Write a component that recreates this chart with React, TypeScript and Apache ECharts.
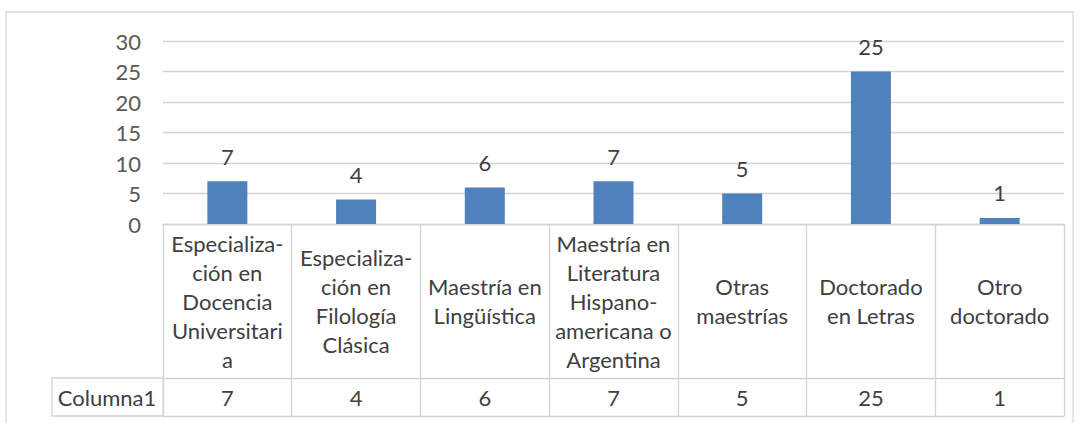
import React, { useEffect, useRef } from "react";
import * as echarts from "echarts";

const categories = [
  "Especializa-\nción en\nDocencia\nUniversitari\na",
  "Especializa-\nción en\nFilología\nClásica",
  "Maestría en\nLingüística",
  "Maestría en\nLiteratura\nHispano-\namericana o\nArgentina",
  "Otras\nmaestrías",
  "Doctorado\nen Letras",
  "Otro\ndoctorado",
];
const seriesName = "Columna1";
const values = [7, 4, 6, 7, 5, 25, 1];
const yTicks = { min: 0, max: 30, interval: 5 };

const FONT = "Lato";
const FS = 22;
const LINE = "#d4d4d4";
const TEXT = "#404040";

export default function App() {
  const ref = useRef<HTMLDivElement>(null);
  useEffect(() => {
    if (!ref.current) return;
    const chart = echarts.init(ref.current, null, { renderer: "svg" });
    chart.setOption({
      animation: false,
      backgroundColor: "#ffffff",
      textStyle: { fontFamily: FONT },
      grid: { left: 163, right: 16, top: 41, bottom: 199, containLabel: false },
      yAxis: {
        type: "value",
        min: yTicks.min,
        max: yTicks.max,
        interval: yTicks.interval,
        axisLine: { show: false },
        axisTick: { show: false },
        axisLabel: { color: "#595959", fontSize: FS, fontFamily: FONT, margin: 22 },
        splitLine: { lineStyle: { color: LINE, width: 1.3 } },
      },
      xAxis: [
        {
          type: "category",
          data: categories,
          position: "bottom",
          axisLine: { show: true, lineStyle: { color: LINE, width: 1.3 } },
          axisTick: { show: true, length: 192, lineStyle: { color: LINE, width: 1.3 } },
          axisLabel: {
            color: TEXT,
            fontSize: FS,
            fontFamily: FONT,
            lineHeight: 29,
            verticalAlign: "middle",
            align: "center",
            margin: 77,
            interval: 0,
          },
        },
        {
          type: "category",
          data: values.map(String),
          position: "bottom",
          offset: 154,
          axisLine: { show: true, lineStyle: { color: LINE, width: 1.3 } },
          axisTick: { show: false },
          axisLabel: {
            color: TEXT,
            fontSize: FS,
            fontFamily: FONT,
            verticalAlign: "middle",
            margin: 19,
            interval: 0,
          },
        },
        {
          type: "category",
          data: categories,
          position: "bottom",
          offset: 192,
          axisLine: { show: true, lineStyle: { color: LINE, width: 1.3 } },
          axisTick: { show: false },
          axisLabel: { show: false },
        },
      ],
      series: [
        {
          name: seriesName,
          type: "bar",
          xAxisIndex: 0,
          data: values,
          barWidth: 40,
          itemStyle: { color: "#4F81BD" },
          label: {
            show: true,
            position: "top",
            distance: 14,
            color: TEXT,
            fontSize: FS,
            fontFamily: FONT,
          },
        },
      ],
      graphic: [
        {
          type: "rect",
          shape: { x: 6, y: 12, width: 1067, height: 430 },
          style: { fill: "none", stroke: "#d9d9d9", lineWidth: 1.3 },
          silent: true,
          z: -1,
        },
        {
          type: "rect",
          shape: { x: 52, y: 378, width: 111, height: 38 },
          style: { fill: "none", stroke: LINE, lineWidth: 1.3 },
          silent: true,
        },
        {
          type: "text",
          x: 107,
          y: 397,
          style: {
            text: seriesName,
            fill: TEXT,
            font: `${FS}px ${FONT}`,
            align: "center",
            verticalAlign: "middle",
          },
        },
      ],
    });
    return () => chart.dispose();
  }, []);
  return (
    <div
      ref={ref}
      style={{ position: "fixed", left: 0, top: 0, width: 1080, height: 423 }}
    />
  );
}
